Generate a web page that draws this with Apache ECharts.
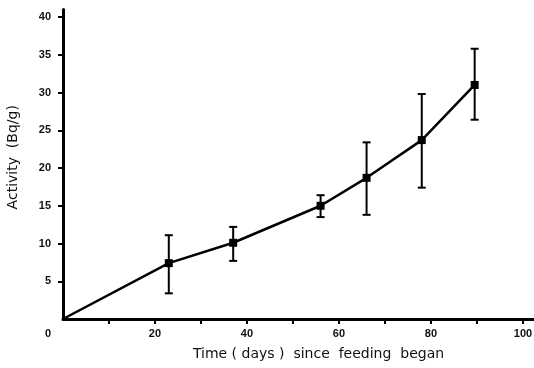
<!DOCTYPE html>
<html>
<head>
<meta charset="utf-8">
<script src="https://cdn.jsdelivr.net/npm/echarts@6/dist/echarts.min.js"></script>
<style>
  html, body { margin: 0; padding: 0; background: #fff; }
  #chart { width: 534px; height: 368px; }
</style>
</head>
<body>
<div id="chart"></div>
<script>
// days since feeding began, mean activity, error bar ends
const days = [0, 23, 37, 56, 66, 78, 89.5];
const activity = [0, 7.4, 10.1, 15.0, 18.7, 23.7, 31.0];
const errLow = [null, 3.4, 7.7, 13.5, 13.8, 17.4, 26.4];
const errHigh = [null, 11.1, 12.2, 16.4, 23.4, 29.8, 35.8];
const yTicks = [0, 5, 10, 15, 20, 25, 30, 35, 40];
const xTicks = [10, 20, 30, 40, 50, 60, 70, 80, 90, 100];
const xLabels = [20, 40, 60, 80, 100];

const chart = echarts.init(document.getElementById('chart'));

const lineData = days.map((d, i) => i === 0
  ? { value: [d, activity[i]], symbol: 'none' }
  : [d, activity[i]]);

const errData = [];
days.forEach((d, i) => {
  if (errLow[i] != null) errData.push([d, errLow[i], errHigh[i]]);
});

const labelStyle = {
  color: '#111',
  fontFamily: 'Liberation Sans, Arial, sans-serif',
  fontWeight: 'bold',
  fontSize: 11
};

const option = {
  animation: false,
  grid: { left: 63, right: 0, top: 9.5, bottom: 49, outerBoundsMode: 'none' },
  xAxis: {
    type: 'value',
    min: 0,
    max: 102.4,
    name: 'Time ( days )  since  feeding  began',
    nameLocation: 'middle',
    nameGap: 28,
    nameTextStyle: {
      color: '#111',
      fontFamily: 'DejaVu Sans, sans-serif',
      fontSize: 14,
      padding: [0, 0, 0, 40]
    },
    axisLine: { lineStyle: { color: '#000', width: 3 } },
    axisTick: {
      show: true, inside: false, length: 5,
      customValues: xTicks,
      lineStyle: { color: '#000', width: 2 }
    },
    axisLabel: Object.assign({ margin: 9, customValues: xLabels }, labelStyle),
    splitLine: { show: false }
  },
  yAxis: {
    type: 'value',
    min: 0,
    max: 41,
    name: 'Activity  (Bq/g)',
    nameLocation: 'middle',
    nameGap: 43,
    nameTextStyle: {
      color: '#111',
      fontFamily: 'DejaVu Sans, sans-serif',
      fontSize: 14,
      padding: [0, 0, 0, 14]
    },
    axisLine: { show: true, lineStyle: { color: '#000', width: 3 } },
    axisTick: {
      show: true, length: 5,
      customValues: yTicks.slice(1),
      lineStyle: { color: '#000', width: 2 }
    },
    axisLabel: Object.assign({
      margin: 12,
      customValues: yTicks,
      formatter: v => v === 0 ? '{z|0}' : String(v),
      rich: { z: Object.assign({ padding: [30, 0, 0, 0] }, labelStyle) }
    }, labelStyle),
    splitLine: { show: false }
  },
  series: [
    {
      type: 'line',
      data: lineData,
      symbol: 'rect',
      symbolSize: 8,
      lineStyle: { color: '#000', width: 2.5 },
      itemStyle: { color: '#000' },
      z: 3
    },
    {
      type: 'custom',
      data: errData,
      renderItem: (params, api) => {
        const x = api.value(0);
        const lo = api.coord([x, api.value(1)]);
        const hi = api.coord([x, api.value(2)]);
        const cap = 4;
        const style = { stroke: '#000', lineWidth: 2 };
        return {
          type: 'group',
          children: [
            { type: 'line', shape: { x1: lo[0], y1: lo[1], x2: hi[0], y2: hi[1] }, style },
            { type: 'line', shape: { x1: lo[0] - cap, y1: lo[1], x2: lo[0] + cap, y2: lo[1] }, style },
            { type: 'line', shape: { x1: hi[0] - cap, y1: hi[1], x2: hi[0] + cap, y2: hi[1] }, style }
          ]
        };
      },
      z: 2
    }
  ]
};

chart.setOption(option);
</script>
</body>
</html>
